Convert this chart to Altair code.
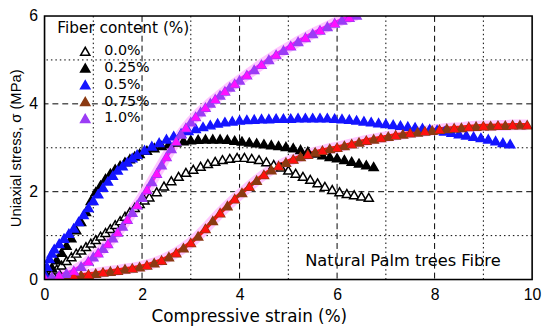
import altair as alt
import pandas as pd

# ---------------- data ----------------
series_names = ["0.0%", "0.25%", "0.5%", "0.75%", "1.0%"]
legend_fill = ["white", "black", "#1414ff", "#8b3a12", "#9b3cf5"]
legend_stroke = ["black", "black", "#1414ff", "#8b3a12", "#9b3cf5"]

strain_00 = [0.15, 0.25, 0.35, 0.45, 0.55, 0.65, 0.75, 0.85, 0.95, 1.05, 1.15, 1.25, 1.35, 1.45,
             1.55, 1.65, 1.75, 1.85, 1.95, 2.05, 2.15, 2.3, 2.45, 2.6, 2.75, 2.9, 3.05, 3.2, 3.35,
             3.5, 3.65, 3.8, 3.95, 4.1, 4.25, 4.4, 4.55, 4.7, 4.85, 5.0, 5.15, 5.3, 5.45, 5.6,
             5.75, 5.9, 6.05, 6.2, 6.35, 6.5, 6.65]
stress_00 = [0.15, 0.24, 0.33, 0.43, 0.52, 0.6, 0.67, 0.75, 0.83, 0.91, 0.99, 1.07, 1.16, 1.25,
             1.34, 1.44, 1.54, 1.64, 1.73, 1.81, 1.88, 2.0, 2.13, 2.25, 2.35, 2.44, 2.51, 2.58, 2.64,
             2.69, 2.73, 2.76, 2.78, 2.78, 2.76, 2.73, 2.68, 2.62, 2.56, 2.49, 2.42, 2.35, 2.28, 2.2,
             2.12, 2.05, 2.0, 1.96, 1.93, 1.9, 1.87]

strain_025 = [0.05, 0.15, 0.25, 0.35, 0.45, 0.55, 0.65, 0.75, 0.85, 0.95, 1.05, 1.15, 1.25, 1.35,
              1.45, 1.55, 1.65, 1.75, 1.85, 1.95, 2.1, 2.25, 2.4, 2.55, 2.7, 2.85, 3.0, 3.15, 3.3,
              3.45, 3.6, 3.75, 3.9, 4.05, 4.2, 4.35, 4.5, 4.65, 4.8, 4.95, 5.1, 5.25, 5.4, 5.55,
              5.7, 5.85, 6.0, 6.15, 6.3, 6.45, 6.6, 6.75]
stress_025 = [0.1, 0.28, 0.45, 0.62, 0.78, 0.95, 1.13, 1.32, 1.55, 1.8, 2.0, 2.15, 2.3, 2.42,
              2.52, 2.6, 2.68, 2.75, 2.81, 2.87, 2.94, 3.0, 3.05, 3.09, 3.13, 3.16, 3.18, 3.19, 3.2,
              3.2, 3.2, 3.19, 3.17, 3.15, 3.13, 3.11, 3.09, 3.07, 3.05, 3.03, 3.0, 2.96, 2.92, 2.88,
              2.84, 2.8, 2.77, 2.73, 2.69, 2.65, 2.61, 2.57]

strain_05 = [0.02, 0.05, 0.1, 0.15, 0.2, 0.3, 0.4, 0.5, 0.6, 0.7, 0.8, 0.9, 1.0, 1.1, 1.2, 1.3,
             1.4, 1.5, 1.6, 1.7, 1.8, 1.9, 2.05, 2.2, 2.35, 2.5, 2.65, 2.8, 2.95, 3.1, 3.25, 3.4,
             3.55, 3.7, 3.85, 4.0, 4.15, 4.3, 4.45, 4.6, 4.75, 4.9, 5.05, 5.2, 5.35, 5.5, 5.65,
             5.8, 5.95, 6.1, 6.25, 6.4, 6.55, 6.7, 6.85, 7.0, 7.15, 7.3, 7.45, 7.6, 7.75, 7.9,
             8.05, 8.2, 8.35, 8.5, 8.65, 8.8, 8.95, 9.1, 9.25, 9.4, 9.55]
stress_05 = [0.1, 0.3, 0.48, 0.6, 0.7, 0.82, 0.94, 1.05, 1.17, 1.32, 1.48, 1.64, 1.8, 1.95, 2.1,
             2.24, 2.37, 2.49, 2.59, 2.68, 2.77, 2.85, 2.95, 3.04, 3.12, 3.2, 3.27, 3.33, 3.39,
             3.44, 3.48, 3.52, 3.56, 3.59, 3.61, 3.63, 3.64, 3.65, 3.66, 3.66, 3.67, 3.67, 3.67,
             3.68, 3.68, 3.68, 3.68, 3.68, 3.67, 3.66, 3.65, 3.63, 3.61, 3.59, 3.57, 3.55, 3.53,
             3.51, 3.49, 3.47, 3.45, 3.43, 3.41, 3.38, 3.35, 3.32, 3.29, 3.26, 3.23, 3.2, 3.16,
             3.12, 3.09]

strain_075 = [0.3, 0.45, 0.6, 0.75, 0.9, 1.05, 1.2, 1.35, 1.5, 1.65, 1.8, 1.95, 2.1, 2.25, 2.4,
              2.55, 2.7, 2.85, 3.0, 3.15, 3.3, 3.45, 3.6, 3.75, 3.9, 4.05, 4.2, 4.35, 4.5, 4.65,
              4.8, 4.95, 5.1, 5.25, 5.4, 5.55, 5.7, 5.85, 6.0, 6.15, 6.3, 6.45, 6.6, 6.75, 6.9,
              7.05, 7.2, 7.35, 7.5, 7.65, 7.8, 7.95, 8.1, 8.25, 8.4, 8.55, 8.7, 8.85, 9.0, 9.15,
              9.3, 9.45, 9.6, 9.75, 9.9]
stress_075 = [0.02, 0.05, 0.08, 0.1, 0.12, 0.14, 0.17, 0.19, 0.21, 0.24, 0.26, 0.29, 0.33, 0.38,
              0.44, 0.52, 0.61, 0.72, 0.84, 0.99, 1.16, 1.34, 1.52, 1.68, 1.84, 1.98, 2.12, 2.26,
              2.39, 2.5, 2.59, 2.67, 2.74, 2.8, 2.85, 2.9, 2.94, 2.98, 3.01, 3.05, 3.09, 3.13,
              3.17, 3.2, 3.23, 3.26, 3.29, 3.31, 3.34, 3.36, 3.38, 3.4, 3.42, 3.44, 3.45, 3.46,
              3.48, 3.49, 3.5, 3.5, 3.51, 3.51, 3.52, 3.52, 3.52]

strain_10 = [0.0, 0.15, 0.3, 0.45, 0.6, 0.75, 0.9, 1.0, 1.1, 1.2, 1.3, 1.4, 1.5, 1.6, 1.7, 1.8,
             1.9, 2.0, 2.1, 2.2, 2.3, 2.4, 2.5, 2.6, 2.7, 2.8, 2.9, 3.0, 3.1, 3.2, 3.3, 3.4, 3.5,
             3.6, 3.7, 3.8, 3.9, 4.0, 4.15, 4.3, 4.45, 4.6, 4.75, 4.9, 5.05, 5.2, 5.35, 5.5,
             5.65, 5.8, 5.95, 6.1, 6.25, 6.4]
stress_10 = [0.05, 0.07, 0.1, 0.14, 0.2, 0.3, 0.42, 0.52, 0.61, 0.71, 0.82, 0.95, 1.08, 1.22,
             1.37, 1.53, 1.7, 1.87, 2.05, 2.23, 2.42, 2.61, 2.8, 2.98, 3.15, 3.31, 3.46, 3.59,
             3.71, 3.82, 3.92, 4.02, 4.11, 4.2, 4.29, 4.38, 4.46, 4.54, 4.66, 4.78, 4.9, 5.01,
             5.12, 5.22, 5.32, 5.42, 5.51, 5.6, 5.68, 5.76, 5.84, 5.91, 5.97, 6.02]

x_ticks = [0, 2, 4, 6, 8, 10]
y_ticks = [0, 2, 4, 6]
x_major = [2, 4, 6, 8]
x_minor = [1, 3, 5, 7, 9]
y_major = [2, 4]
y_minor = [1, 3, 5]

annotation = ["Natural Palm trees Fibre"]
anno_x = [7.35]
anno_y = [0.42]

# ---------------- build tables ----------------
all_series = [
    ("0.0%", strain_00, stress_00),
    ("0.25%", strain_025, stress_025),
    ("0.5%", strain_05, stress_05),
    ("0.75%", strain_075, stress_075),
    ("1.0%", strain_10, stress_10),
]
rows = []
for name, xs, ys in all_series:
    for i, (a, b) in enumerate(zip(xs, ys)):
        rows.append({"series": name, "strain": a, "stress": b, "idx": i})
df = pd.DataFrame(rows)

W, H = 494, 267
xs_ = alt.Scale(domain=[0, 10], nice=False, zero=False)
ys_ = alt.Scale(domain=[0, 6], nice=False, zero=False)

FONT = "Liberation Sans"
WIDE = "DejaVu Sans"

x_axis = alt.Axis(title="Compressive strain (%)", values=x_ticks, format="d", grid=False,
                  ticks=False, domain=False, labelFontSize=16, labelPadding=7,
                  titleFontSize=17, titleFontWeight="normal", titlePadding=7,
                  titleX=207, titleAlign="center",
                  labelFont=FONT, titleFont=WIDE, labelColor="black", titleColor="black",
                  labelFlush=False)
y_axis = alt.Axis(title="Uniaxial stress, σ (MPa)", values=y_ticks, format="d", grid=False,
                  ticks=False, domain=False, labelFontSize=16, labelPadding=7,
                  titleFontSize=15, titleFontWeight="normal", titlePadding=5,
                  labelFont=FONT, titleFont=FONT, labelColor="black", titleColor="black",
                  labelFlush=False)


def X(field):
    return alt.X(field, scale=xs_, axis=x_axis)


def Y(field):
    return alt.Y(field, scale=ys_, axis=y_axis)


def vrules(vals, dash):
    return alt.Chart(pd.DataFrame({"v": vals})).mark_rule(
        color="black", strokeWidth=1, strokeDash=dash).encode(x=X("v:Q"))


def hrules(vals, dash):
    return alt.Chart(pd.DataFrame({"v": vals})).mark_rule(
        color="black", strokeWidth=1, strokeDash=dash).encode(y=Y("v:Q"))


grid = (vrules(x_major, [6, 4]) + vrules(x_minor, [1.5, 3]) +
        hrules(y_major, [6, 4]) + hrules(y_minor, [1.5, 3]))

base = alt.Chart(df)

halo = base.transform_filter(
    "datum.series == '0.75%' || datum.series == '1.0%'"
).mark_line(color="#ffc6ff", strokeWidth=11, clip=True).encode(
    x=X("strain:Q"), y=Y("stress:Q"), detail="series:N", order="idx:Q")

red_line = base.transform_filter("datum.series == '0.75%'").mark_line(
    color="#ff1010", strokeWidth=4, clip=True).encode(
    x=X("strain:Q"), y=Y("stress:Q"), order="idx:Q")
mag_line = base.transform_filter("datum.series == '1.0%'").mark_line(
    color="#ff10ff", strokeWidth=4, clip=True).encode(
    x=X("strain:Q"), y=Y("stress:Q"), order="idx:Q")

leg = alt.Legend(title="Fiber content (%)", orient="none", legendX=13, legendY=5,
                 symbolType="triangle-up", symbolSize=85, symbolStrokeWidth=1.6,
                 symbolOffset=21, labelOffset=12, titleFontSize=15.5,
                 titleFontWeight="normal", titleFont=WIDE, labelFont=WIDE,
                 labelFontSize=14.5, titleColor="black", labelColor="black",
                 rowPadding=1, titlePadding=8, padding=0)

points = base.mark_point(shape="triangle-up", size=85, filled=True, strokeWidth=1.5,
                         opacity=1, fillOpacity=1, clip=True).encode(
    x=X("strain:Q"), y=Y("stress:Q"),
    fill=alt.Fill("series:N", scale=alt.Scale(domain=series_names, range=legend_fill),
                  legend=leg, sort=series_names),
    stroke=alt.Stroke("series:N", scale=alt.Scale(domain=series_names, range=legend_stroke),
                      legend=leg, sort=series_names),
)

red_pts = base.transform_filter(
    "datum.series == '0.75%' && datum.idx % 2 == 0").mark_point(
    shape="triangle-up", size=85, filled=True, color="#ff1010", opacity=1, clip=True
).encode(x=X("strain:Q"), y=Y("stress:Q"))
mag_pts = base.transform_filter(
    "datum.series == '1.0%' && datum.idx % 2 == 0").mark_point(
    shape="triangle-up", size=85, filled=True, color="#ff10ff", opacity=1, clip=True
).encode(x=X("strain:Q"), y=Y("stress:Q"))

text = alt.Chart(pd.DataFrame({"t": annotation, "x": anno_x, "y": anno_y})).mark_text(
    font=WIDE, fontSize=16.5, color="black", align="center", baseline="middle").encode(
    x=X("x:Q"), y=Y("y:Q"), text="t:N")

frame = alt.Chart(pd.DataFrame({"f": [0]})).mark_rect(
    fill=None, stroke="black", strokeWidth=1.6).encode(
    x=alt.value(0), x2=alt.value(W), y=alt.value(0), y2=alt.value(H))

chart = alt.layer(grid, halo, red_line, mag_line, points, red_pts, mag_pts, text,
                  frame).properties(
    width=W, height=H,
    autosize=alt.AutoSizeParams(type="none"),
    padding={"left": 37, "top": 6, "right": 10, "bottom": 48},
).configure_view(stroke=None).configure(background="white")

chart.save("out.html", embed_options={"renderer": "svg", "actions": False})
